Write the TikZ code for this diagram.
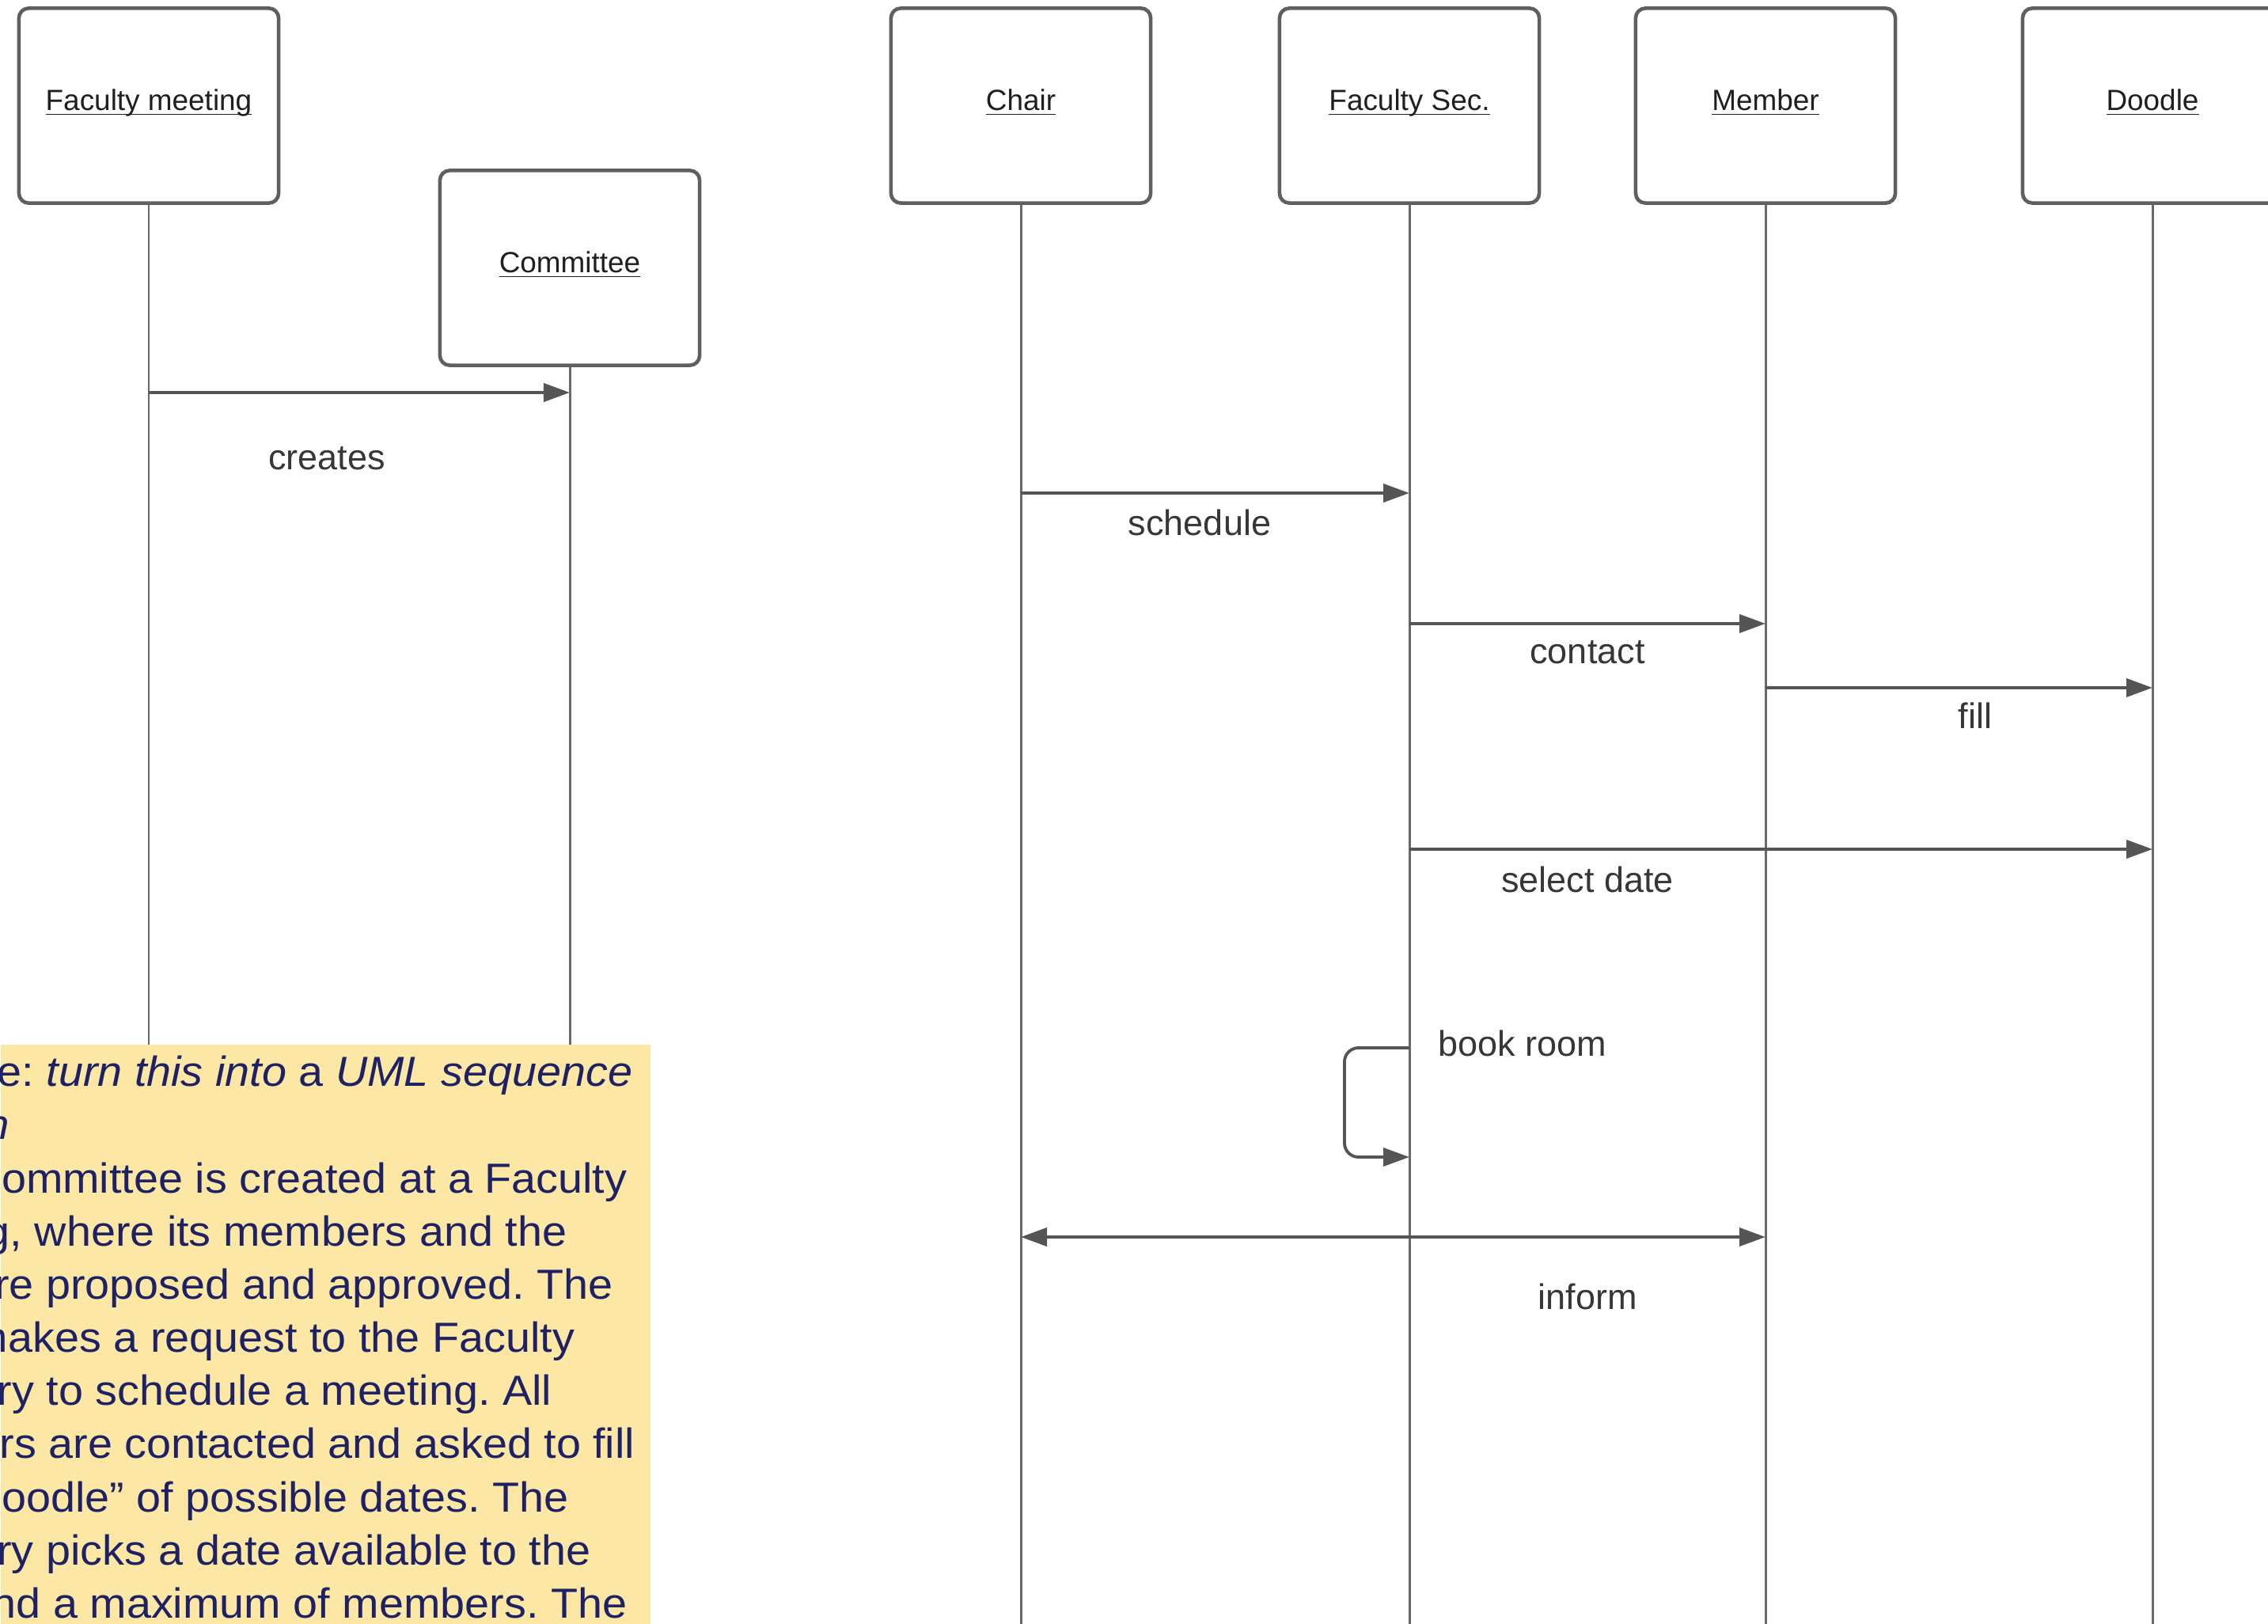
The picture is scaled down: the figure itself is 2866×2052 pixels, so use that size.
\documentclass[tikz,border=0pt]{standalone}
\usepackage{fontspec}
\setmainfont{Liberation Sans}
\newfontfamily\notefont[FakeStretch=1.05]{Liberation Sans}
\usetikzlibrary{arrows.meta,calc}
\definecolor{boxline}{RGB}{95,95,95}
\definecolor{lifeline}{RGB}{105,105,105}
\definecolor{msgline}{RGB}{85,85,85}
\definecolor{labeltext}{RGB}{55,55,55}
\definecolor{notebg}{RGB}{252,231,165}
\definecolor{notetext}{RGB}{30,34,100}
\newcommand{\actlabel}[1]{\raisebox{-0.06cm}[0pt][0pt]{\underline{\smash{#1}}}}
\frenchspacing
\begin{document}
\begin{tikzpicture}[x=0.01cm,y=-0.01cm,
  actor/.style={draw=boxline, line width=1.3pt, rounded corners=3.5pt, fill=white,
    minimum width=3.28cm, minimum height=2.46cm, inner sep=0pt,
    font=\fontsize{10.5}{12}\selectfont, text=black!88},
  life/.style={draw=lifeline, line width=0.85pt},
  msg/.style={draw=msgline, line width=1.1pt, -{Triangle[length=0.33cm,width=0.23cm]}},
  lbl/.style={font=\fontsize{12.8}{15}\selectfont, text=labeltext, anchor=mid, inner sep=0pt},
  noteline/.style={font=\notefont\fontsize{15.1}{19}\selectfont, text=notetext, anchor=base east, inner sep=0pt}]
\clip (0,0) rectangle (2866,2052);
\fill[white] (0,0) rectangle (2866,2052);

% actors
\node[actor] (fm) at (188,133.5) {\actlabel{Faculty meeting}};
\node[actor] (com) at (720,338.5) {\actlabel{Committee}};
\node[actor] (chair) at (1290,133.5) {\actlabel{Chair}};
\node[actor] (sec) at (1781,133.5) {\actlabel{Faculty Sec.}};
\node[actor] (mem) at (2231,133.5) {\actlabel{Member}};
\node[actor] (doo) at (2720,133.5) {\actlabel{Doodle}};

% lifelines
\coordinate (bot) at (0,2052);
\foreach \a in {fm,com,chair,sec,mem,doo}
  \draw[life] (\a.south) -- (\a.south |- bot);

% message heights
\coordinate (y1) at (0,496);
\coordinate (y2) at (0,623);
\coordinate (y3) at (0,788);
\coordinate (y4) at (0,869);
\coordinate (y5) at (0,1073);
\coordinate (yb1) at (0,1324);
\coordinate (yb2) at (0,1462);
\coordinate (y6) at (0,1563);
\coordinate (xl) at (1699,0);

% messages
\draw[msg] (fm |- y1) -- (com |- y1);
\node[lbl] (lcreates) at (413,584) {creates};
\draw[msg] (chair |- y2) -- (sec |- y2);
\node[lbl] (lschedule) at (1516,667) {schedule};
\draw[msg] (sec |- y3) -- (mem |- y3);
\node[lbl] (lcontact) at (2006,829) {contact};
\draw[msg] (mem |- y4) -- (doo |- y4);
\node[lbl] (lfill) at (2496,911) {fill};
\draw[msg] (sec |- y5) -- (doo |- y5);
\node[lbl] (lselect) at (2006,1118) {select date};
\draw[msg, rounded corners=5pt] (sec |- yb1) -- (xl |- yb1) -- (xl |- yb2) -- (sec |- yb2);
\node[lbl, anchor=mid west] (lbook) at (1817,1325) {book room};
\draw[msg, {Triangle[length=0.33cm,width=0.23cm]}-{Triangle[length=0.33cm,width=0.23cm]}] (chair |- y6) -- (mem |- y6);
\node[lbl] (linform) at (2006,1645) {inform};

% note
\node[fill=notebg, anchor=north west, minimum width=8.21cm, minimum height=7.4cm, inner sep=0pt] (note) at (0,1319) {};
\begin{scope}
\clip (0,1319) rectangle (821,2052);
\node[noteline] (n1) at (800,1372) {Exercise: \textit{turn this into} a \textit{UML sequence}};
\node[noteline] (n2) at (13,1439) {\textit{diagram}};
\node[noteline] (n3) at (793,1507) {A Committee is created at a Faculty};
\node[noteline] (n4) at (717,1574) {Meeting, where its members and the};
\node[noteline] (n5) at (775,1641) {Chair are proposed and approved. The};
\node[noteline] (n6) at (727,1708) {Chair makes a request to the Faculty};
\node[noteline] (n7) at (698,1775) {Secretary to schedule a meeting. All};
\node[noteline] (n8) at (803,1842) {members are contacted and asked to fill};
\node[noteline] (n9) at (719,1910) {a “doodle” of possible dates. The};
\node[noteline] (n10) at (747,1977) {Secretary picks a date available to the};
\node[noteline] (n11) at (793,2044) {Chair and a maximum of members. The};
\end{scope}
\end{tikzpicture}
\end{document}
